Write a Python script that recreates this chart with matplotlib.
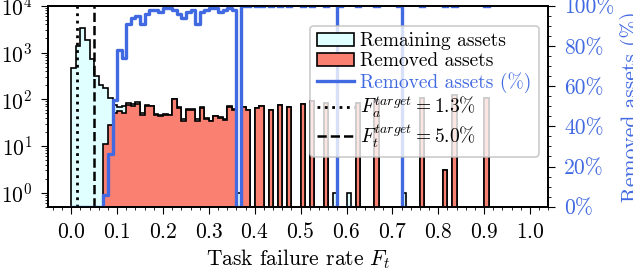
import numpy as np
import matplotlib
matplotlib.use("Agg")
import matplotlib.pyplot as plt
from matplotlib.ticker import MultipleLocator, PercentFormatter, LogLocator

plt.rcParams['font.family'] = 'serif'
plt.rcParams['font.serif'] = ['cmr10']
plt.rcParams['mathtext.fontset'] = 'cm'
plt.rcParams['axes.formatter.use_mathtext'] = True
plt.rcParams['font.size'] = 15.5
for k in ('xtick', 'ytick'):
    plt.rcParams[k + '.major.size'] = 4.8
    plt.rcParams[k + '.minor.size'] = 2.4
    plt.rcParams[k + '.major.pad'] = 6.5
    plt.rcParams[k + '.minor.pad'] = 6.5

nan = np.nan

# histogram bins of the task failure rate (width 0.01)
edges = np.linspace(0.0, 1.0, 101)

# all assets per bin (cyan, drawn below the removed ones)
remaining = [
    470, 1350, 3350, 1900, 740, 310, 197, 176, 107, 75,
    68, 70, 85, 78, 88, 50, 76, 73, 48, 46,
    48, 47, 101, 67, 37, 62, 61, 38, 68, 39,
    35, 43, 41, 37, 70, 61, 1, 69, 58, 0,
    65, 70, 0, 60, 0, 77, 0, 69, 0, 0,
    81, 0, 90, 0, 0, 85, 0, 1, 0, 0,
    1, 0, 85, 0, 0, 0, 90, 0, 0, 0,
    0, 0, 1, 0, 0, 0, 107, 0, 0, 0,
    0, 3, 0, 126, 0, 0, 0, 0, 0, 0,
    107, 0, 0, 0, 0, 0, 0, 0, 0, 0,
]

# removed assets per bin (red)
removed = [
    0, 0, 0, 0, 0, 0, 0, 11, 28, 52,
    55, 52, 77, 73, 81, 47, 73, 71, 47, 43,
    47, 47, 99, 65, 35, 60, 60, 35, 65, 38,
    34, 43, 40, 36, 69, 60, 0, 69, 58, 0,
    65, 70, 0, 60, 0, 77, 0, 69, 0, 0,
    81, 0, 90, 0, 0, 85, 0, 0, 0, 0,
    0, 0, 85, 0, 0, 0, 90, 0, 0, 0,
    0, 0, 0, 0, 0, 0, 107, 0, 0, 0,
    0, 3, 0, 126, 0, 0, 0, 0, 0, 0,
    107, 0, 0, 0, 0, 0, 0, 0, 0, 0,
]

# share of removed assets per bin in %
removed_pct = [
    0, 0, 0, 0, 0, 0, 0, 6, 26, 53,
    78, 74, 91, 94, 95, 91, 96, 98, 98, 97,
    99, 99, 98, 96, 94, 97, 98, 91, 97, 98,
    99, 99, 97, 98, 99, 98, 0, 100, 100, nan,
    100, 100, nan, 100, nan, 100, nan, 100, nan, nan,
    100, nan, 100, nan, nan, 100, nan, 0, 100, nan,
    0, nan, 100, nan, nan, nan, 100, nan, nan, nan,
    nan, 100, 0, nan, nan, nan, 100, nan, nan, nan,
    nan, 100, nan, 100, nan, nan, nan, nan, nan, nan,
    100, nan, nan, nan, nan, nan, nan, nan, nan, nan,
]

F_a_target = 0.013
F_t_target = 0.05

blue = '#4169e1'

fig = plt.figure(figsize=(6.33, 2.7), dpi=100)
ax = fig.add_axes([0.0763, 0.2344, 0.79, 0.744])
ax.set_yscale('log')

h_rem = ax.stairs(remaining, edges, fill=True, facecolor='#e0ffff', edgecolor='k',
                  linewidth=1.2, label='Remaining assets')
h_rmv = ax.stairs(removed, edges, fill=True, facecolor='salmon', edgecolor='k',
                  linewidth=1.2, label='Removed assets')
h_a = ax.axvline(F_a_target, color='k', ls=':', lw=2,
                 label=r'$F_a^{target}=1.3\%$')
h_t = ax.axvline(F_t_target, color='k', ls='--', lw=1.8,
                 label=r'$F_t^{target}=5.0\%$')

ax.set_xlim(-0.05, 1.04)
ax.set_ylim(0.5, 1e4)
ax.yaxis.set_major_locator(LogLocator(base=10, numticks=10))
ax.yaxis.set_minor_locator(LogLocator(base=10, subs=np.arange(2, 10), numticks=10))
ax.xaxis.set_major_locator(MultipleLocator(0.1))
ax.xaxis.set_minor_locator(MultipleLocator(0.02))
ax.set_xlabel(r'Task failure rate $F_t$', labelpad=3.5)

ax2 = ax.twinx()
h_pct, = ax2.plot(edges, np.append(removed_pct, nan), drawstyle='steps-post',
                  color=blue, lw=2.4, label='Removed assets (%)')
ax2.set_ylim(0, 100)
ax2.yaxis.set_major_locator(MultipleLocator(20))
ax2.yaxis.set_minor_locator(MultipleLocator(5))
ax2.yaxis.set_major_formatter(PercentFormatter(xmax=100, decimals=0))
ax2.tick_params(axis='y', labelcolor=blue)
ax2.set_ylabel('Removed assets (%)', color=blue)

for a in (ax, ax2):
    for s in a.spines.values():
        s.set_linewidth(1.3)

leg = ax2.legend(handles=[h_rem, h_rmv, h_pct, h_a, h_t], loc='upper right',
                 bbox_to_anchor=(1.0, 0.95), fontsize=14, handlelength=1.9,
                 handletextpad=0.35, labelspacing=0.1, borderpad=0.35,
                 edgecolor='0.75')
leg.get_frame().set_linewidth(1.2)
leg.get_texts()[2].set_color(blue)

fig.savefig('out.png', dpi=100)
